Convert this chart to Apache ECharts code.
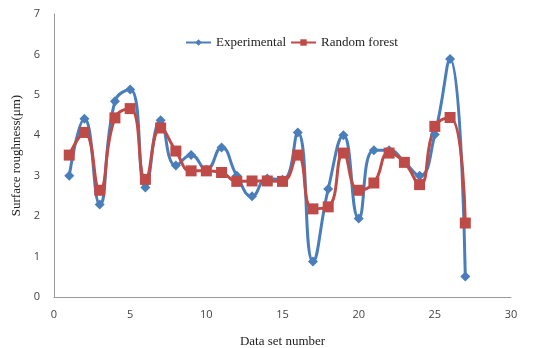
<!DOCTYPE html>
<html><head><meta charset="utf-8">
<script src="https://cdn.jsdelivr.net/npm/echarts@6/dist/echarts.min.js"></script>
<style>html,body{margin:0;padding:0;background:#fff}#c{width:541px;height:348px}</style>
</head><body><div id="c"></div>
<script>
const dataSets = [1,2,3,4,5,6,7,8,9,10,11,12,13,14,15,16,17,18,19,20,21,22,23,24,25,26,27];
const experimental = [3.0,4.41,2.29,4.84,5.13,2.71,4.37,3.25,3.51,3.15,3.70,3.0,2.49,2.93,2.9,4.07,0.88,2.67,4.0,1.94,3.63,3.63,3.34,3.0,4.02,5.89,0.51];
const randomForest = [3.51,4.07,2.64,4.43,4.66,2.91,4.18,3.61,3.12,3.12,3.08,2.86,2.87,2.87,2.86,3.51,2.18,2.23,3.56,2.64,2.82,3.56,3.33,2.78,4.22,4.44,1.83];
const xTicks = [0,5,10,15,20,25,30];
const yTicks = [0,1,2,3,4,5,6,7];

const chart = echarts.init(document.getElementById('c'), null, {renderer:'canvas'});
const pair = (ys) => dataSets.map((x,i)=>[x, ys[i]]);
chart.setOption({
  animation:false,
  grid:{left:54, right:30, top:14, bottom:51, containLabel:false, outerBoundsMode:'none'},
  legend:{
    top:31, left:180, itemGap:4, itemWidth:25, itemHeight:8,
    textStyle:{fontFamily:'Liberation Serif', fontSize:13, color:'#222'},
    data:['Experimental','Random forest']
  },
  xAxis:{
    type:'value', min:xTicks[0], max:xTicks[xTicks.length-1], interval:5,
    name:'Data set number', nameLocation:'middle', nameGap:38,
    nameTextStyle:{fontFamily:'Liberation Serif', fontSize:13, color:'#222'},
    axisLine:{show:true, lineStyle:{color:'#9a9a9a', width:1}},
    axisTick:{show:false},
    splitLine:{show:false},
    axisLabel:{fontFamily:'Open Sans', fontSize:11, color:'#444', margin:12}
  },
  yAxis:{
    type:'value', min:yTicks[0], max:yTicks[yTicks.length-1], interval:1,
    name:'Surface roughness(\u03bcm)', nameLocation:'middle', nameGap:29, nameRotate:90,
    nameTextStyle:{fontFamily:'Liberation Serif', fontSize:13, color:'#222'},
    axisLine:{show:true, lineStyle:{color:'#9a9a9a', width:1}},
    axisTick:{show:false},
    splitLine:{show:false},
    axisLabel:{fontFamily:'Open Sans', fontSize:11, color:'#444', margin:14}
  },
  series:[
    {name:'Experimental', type:'line', smooth:0.5, data:pair(experimental),
     symbol:'diamond', symbolSize:10,
     itemStyle:{color:'#4a7ebb'}, lineStyle:{color:'#4a7ebb', width:3}},
    {name:'Random forest', type:'line', smooth:0.5, data:pair(randomForest),
     symbol:'rect', symbolSize:11,
     itemStyle:{color:'#be4b48'}, lineStyle:{color:'#be4b48', width:3}}
  ]
});
</script></body></html>
